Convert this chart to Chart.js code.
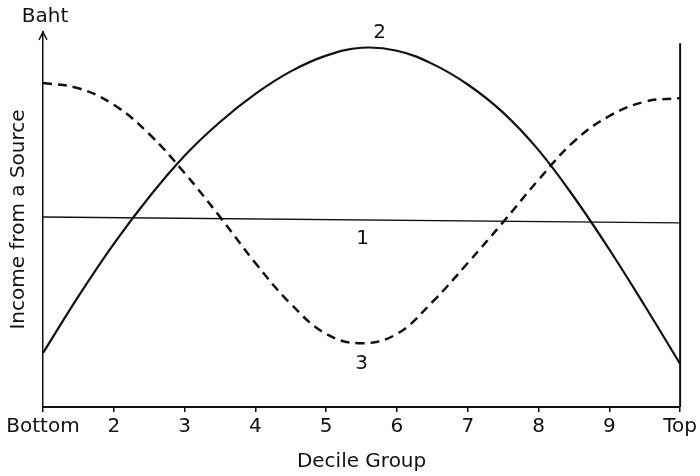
<!DOCTYPE html>
<html>
<head>
<meta charset="utf-8">
<title>Income from a Source by Decile Group</title>
<script src="https://cdn.jsdelivr.net/npm/chart.js@4/dist/chart.umd.min.js"></script>
<style>
    body { margin: 0; background: #fff; }
    #wrap { width: 700px; height: 476px; }
</style>
</head>
<body>
<div id="wrap"><canvas id="incomeChart" width="700" height="476"></canvas></div>
<script>
// decile groups on the x axis
var decileLabels = ['Bottom', '2', '3', '4', '5', '6', '7', '8', '9', 'Top'];

// readings at every half decile (1 = Bottom, 10 = Top), income in arbitrary baht units
var decilePos = [1, 1.5, 2, 2.5, 3, 3.5, 4, 4.5, 5, 5.5, 6, 6.5, 7, 7.5, 8, 8.5, 9, 9.5, 10];
var curve2 = [14.4, 29.5, 43.5, 56.0, 67.0, 76.0, 83.5, 89.5, 93.7, 95.8, 95.0, 91.5, 86.0, 78.5, 68.5, 56.0, 42.0, 27.0, 11.5];
var curve3 = [86.4, 85.0, 80.6, 72.8, 62.4, 50.7, 38.4, 27.5, 19.5, 17.0, 19.5, 28.0, 38.4, 49.3, 60.6, 70.8, 77.6, 81.4, 82.4];

// line 1 is almost flat, only its two ends
var line1Pos = [1, 10];
var line1 = [50.7, 49.1];

var toPoints = function (xs, ys) {
    var pts = [];
    for (var i = 0; i < xs.length; i++) {
        pts.push({ x: xs[i], y: ys[i] });
    }
    return pts;
};

var FONT = 'DejaVu Sans';
var INK = '#111';

// arrow on the y axis, right frame line, "Baht" and the curve numbers
var decorations = {
    id: 'decorations',
    afterDatasetsDraw: function (chart) {
        var ctx = chart.ctx;
        var area = chart.chartArea;
        var xs = chart.scales.x;
        var ys = chart.scales.y;
        ctx.save();
        ctx.strokeStyle = INK;

        // arrow head
        ctx.lineWidth = 1.5;
        ctx.beginPath();
        ctx.moveTo(area.left - 4, area.top + 8);
        ctx.lineTo(area.left, area.top);
        ctx.lineTo(area.left + 4, area.top + 8);
        ctx.stroke();

        // right hand frame line
        ctx.lineWidth = 2;
        ctx.beginPath();
        ctx.moveTo(area.right, ys.getPixelForValue(97));
        ctx.lineTo(area.right, area.bottom);
        ctx.stroke();

        ctx.fillStyle = INK;
        ctx.font = '20px "' + FONT + '"';
        ctx.textAlign = 'center';
        ctx.textBaseline = 'middle';
        ctx.fillText('Baht', area.left + 2, area.top - 15);

        // curve numbers, placed from the data itself
        var top2 = 0;
        var low3 = 0;
        for (var i = 0; i < decilePos.length; i++) {
            if (curve2[i] > curve2[top2]) top2 = i;
            if (curve3[i] < curve3[low3]) low3 = i;
        }
        var px2 = xs.getPixelForValue(decilePos[top2]);
        var py2 = ys.getPixelForValue(curve2[top2]);
        ctx.fillText('2', px2 + 18, py2 - 15);

        var px3 = xs.getPixelForValue(decilePos[low3]);
        var py3 = ys.getPixelForValue(curve3[low3]);
        ctx.fillText('3', px3, py3 + 21);

        var t = (decilePos[low3] - line1Pos[0]) / (line1Pos[1] - line1Pos[0]);
        var v1 = line1[0] + t * (line1[1] - line1[0]);
        ctx.fillText('1', px3 + 1, ys.getPixelForValue(v1) + 19);
        ctx.restore();
    }
};

var incomeCanvas = document.getElementById('incomeChart');
var incomeChart = new Chart(incomeCanvas, {
    type: 'line',
    data: {
        datasets: [
            {
                label: '1',
                data: toPoints(line1Pos, line1),
                borderColor: INK,
                borderWidth: 1.5,
                pointRadius: 0,
                tension: 0,
                fill: false
            },
            {
                label: '2',
                data: toPoints(decilePos, curve2),
                borderColor: INK,
                borderWidth: 2.2,
                pointRadius: 0,
                tension: 0.4,
                fill: false
            },
            {
                label: '3',
                data: toPoints(decilePos, curve3),
                borderColor: INK,
                borderWidth: 2.5,
                borderDash: [9, 6],
                pointRadius: 0,
                tension: 0.4,
                fill: false
            }
        ]
    },
    options: {
        responsive: false,
        animation: false,
        layout: { padding: { top: 32, right: 17, bottom: 0, left: 0 } },
        plugins: {
            legend: { display: false },
            tooltip: { enabled: false }
        },
        scales: {
            x: {
                type: 'linear',
                min: 1,
                max: 10,
                afterFit: function (scale) { scale.height = 69; },
                grid: {
                    drawOnChartArea: false,
                    drawTicks: true,
                    tickLength: 5,
                    color: INK,
                    lineWidth: 1.5
                },
                border: { display: true, color: INK, width: 2 },
                ticks: {
                    stepSize: 1,
                    autoSkip: false,
                    maxRotation: 0,
                    padding: 3,
                    color: INK,
                    font: { family: FONT, size: 20 },
                    callback: function (value) {
                        return decileLabels[value - 1];
                    }
                },
                title: {
                    display: true,
                    text: 'Decile Group',
                    color: INK,
                    font: { family: FONT, size: 20 },
                    padding: { top: 0, bottom: 2 }
                }
            },
            y: {
                min: 0,
                max: 100,
                afterFit: function (scale) { scale.width = 43; },
                grid: { display: false },
                border: { display: true, color: INK, width: 1.5 },
                ticks: { display: false },
                title: {
                    display: true,
                    text: 'Income from a Source',
                    color: INK,
                    font: { family: FONT, size: 20 },
                    padding: { top: 7, bottom: 0 }
                }
            }
        }
    },
    plugins: [decorations]
});
</script>
</body>
</html>
